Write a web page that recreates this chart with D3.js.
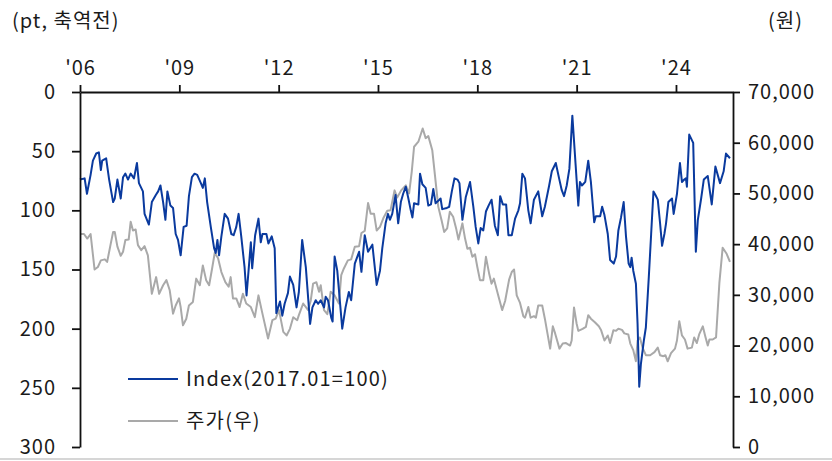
<!DOCTYPE html>
<html>
<head>
<meta charset="utf-8">
<script src="https://cdn.jsdelivr.net/npm/d3@7"></script>
<style>
    body { margin: 0; background: #fff; }
    svg text { font-family: "Noto Sans CJK KR", "Noto Sans", sans-serif; fill: #1a1a1a; }
</style>
</head>
<body>
<svg id="chart"></svg>
<script>
// Index (left axis, inverted) and share price (right axis), monthly
const indexSeries = [
    [2006.00, 74], [2006.14, 73], [2006.21, 86], [2006.32, 70], [2006.39, 58], [2006.49, 52], [2006.57, 51],
    [2006.63, 66], [2006.67, 58], [2006.79, 56], [2006.88, 74], [2007.00, 93], [2007.05, 90], [2007.13, 74],
    [2007.23, 90], [2007.30, 72], [2007.37, 69], [2007.45, 74], [2007.53, 69], [2007.63, 73], [2007.72, 60],
    [2007.78, 77], [2007.90, 84], [2007.95, 103], [2008.08, 112], [2008.17, 93], [2008.29, 87], [2008.36, 84],
    [2008.43, 79], [2008.51, 93], [2008.58, 108], [2008.64, 84], [2008.73, 96], [2008.81, 98], [2008.89, 120],
    [2008.96, 125], [2009.04, 138], [2009.13, 114], [2009.22, 113], [2009.29, 88], [2009.38, 72], [2009.46, 69],
    [2009.54, 70], [2009.65, 77], [2009.71, 81], [2009.77, 73], [2009.84, 93], [2009.95, 114], [2010.05, 132],
    [2010.10, 136], [2010.15, 125], [2010.20, 138], [2010.27, 122], [2010.37, 103], [2010.47, 107], [2010.57, 120],
    [2010.64, 121], [2010.72, 114], [2010.79, 103], [2010.87, 122], [2010.97, 148], [2011.03, 172], [2011.16, 127],
    [2011.20, 149], [2011.29, 121], [2011.39, 107], [2011.46, 127], [2011.51, 120], [2011.63, 120], [2011.69, 128],
    [2011.79, 122], [2011.88, 132], [2011.93, 187], [2012.04, 177], [2012.11, 189], [2012.18, 179], [2012.28, 170],
    [2012.34, 156], [2012.44, 163], [2012.54, 182], [2012.61, 169], [2012.71, 125], [2012.82, 148], [2012.95, 196],
    [2013.02, 182], [2013.12, 176], [2013.19, 179], [2013.27, 176], [2013.37, 182], [2013.42, 173], [2013.49, 176],
    [2013.59, 191], [2013.63, 194], [2013.69, 139], [2013.77, 151], [2013.92, 200], [2014.02, 182], [2014.12, 169],
    [2014.19, 176], [2014.30, 145], [2014.43, 135], [2014.50, 152], [2014.60, 121], [2014.70, 135], [2014.83, 129],
    [2014.96, 163], [2015.06, 151], [2015.13, 132], [2015.23, 111], [2015.30, 103], [2015.36, 108], [2015.43, 103],
    [2015.53, 87], [2015.61, 111], [2015.69, 93], [2015.76, 86], [2015.84, 80], [2015.91, 89], [2015.99, 100],
    [2016.04, 106], [2016.09, 94], [2016.22, 95], [2016.27, 69], [2016.34, 78], [2016.44, 81], [2016.52, 96],
    [2016.60, 95], [2016.67, 82], [2016.74, 94], [2016.82, 92], [2016.89, 90], [2016.94, 99], [2017.08, 98],
    [2017.15, 97], [2017.23, 84], [2017.31, 73], [2017.40, 74], [2017.46, 77], [2017.55, 108], [2017.65, 89],
    [2017.78, 76], [2017.88, 97], [2017.95, 114], [2018.03, 128], [2018.10, 115], [2018.18, 117], [2018.26, 101],
    [2018.34, 96], [2018.43, 91], [2018.53, 113], [2018.62, 121], [2018.69, 88], [2018.77, 95], [2018.87, 95],
    [2018.94, 121], [2019.04, 121], [2019.14, 107], [2019.24, 100], [2019.29, 94], [2019.36, 69], [2019.44, 73],
    [2019.54, 100], [2019.61, 111], [2019.71, 91], [2019.84, 84], [2019.96, 105], [2020.04, 97], [2020.17, 79],
    [2020.25, 67], [2020.37, 60], [2020.47, 73], [2020.55, 83], [2020.62, 88], [2020.70, 79], [2020.78, 65],
    [2020.87, 20], [2020.97, 62], [2021.05, 96], [2021.10, 76], [2021.16, 79], [2021.26, 76], [2021.35, 58],
    [2021.43, 76], [2021.53, 110], [2021.58, 105], [2021.71, 105], [2021.77, 97], [2021.84, 104], [2021.94, 120],
    [2022.01, 142], [2022.12, 145], [2022.19, 139], [2022.26, 117], [2022.34, 106], [2022.42, 93], [2022.49, 122],
    [2022.57, 145], [2022.62, 148], [2022.66, 140], [2022.71, 151], [2022.79, 162], [2022.84, 196], [2022.89, 249],
    [2022.94, 230], [2023.03, 210], [2023.09, 199], [2023.18, 156], [2023.25, 120], [2023.32, 84], [2023.38, 87],
    [2023.45, 91], [2023.52, 111], [2023.58, 130], [2023.65, 120], [2023.70, 111], [2023.77, 93], [2023.88, 90],
    [2023.93, 103], [2024.03, 86], [2024.12, 60], [2024.18, 76], [2024.25, 74], [2024.30, 73], [2024.33, 80],
    [2024.40, 36], [2024.52, 43], [2024.60, 135], [2024.66, 108], [2024.76, 90], [2024.84, 74], [2024.96, 71],
    [2025.08, 95], [2025.19, 63], [2025.33, 77], [2025.44, 67], [2025.51, 52], [2025.63, 56]
];

const priceSeries = [
    [2006.00, 42000], [2006.12, 42000], [2006.22, 41100], [2006.32, 42000], [2006.44, 35000], [2006.54, 35500],
    [2006.63, 36800], [2006.75, 37000], [2006.82, 36500], [2006.92, 39800], [2007.00, 42400], [2007.05, 42400],
    [2007.13, 39500], [2007.23, 37700], [2007.30, 38500], [2007.37, 40800], [2007.47, 40900], [2007.53, 44400],
    [2007.60, 42700], [2007.68, 42900], [2007.75, 39800], [2007.85, 38800], [2007.95, 39600], [2008.05, 37800],
    [2008.17, 30200], [2008.30, 33500], [2008.39, 30200], [2008.51, 31900], [2008.61, 32900], [2008.71, 30900],
    [2008.81, 26300], [2008.89, 27900], [2008.99, 29300], [2009.04, 27600], [2009.11, 24000], [2009.21, 25300],
    [2009.29, 27900], [2009.41, 28600], [2009.51, 33200], [2009.62, 31900], [2009.71, 35800], [2009.81, 32900],
    [2009.90, 31900], [2009.99, 35200], [2010.07, 38300], [2010.17, 37200], [2010.27, 34500], [2010.39, 32500],
    [2010.49, 31600], [2010.55, 33500], [2010.62, 29300], [2010.72, 29300], [2010.82, 27600], [2010.92, 30200],
    [2011.02, 28300], [2011.16, 27600], [2011.28, 25600], [2011.39, 29900], [2011.51, 26300], [2011.68, 21400],
    [2011.81, 25000], [2011.91, 25300], [2012.01, 27000], [2012.14, 22700], [2012.24, 22000], [2012.34, 23300],
    [2012.44, 25600], [2012.56, 25000], [2012.61, 26000], [2012.74, 28300], [2012.89, 27000], [2012.97, 28900],
    [2013.04, 32200], [2013.14, 32500], [2013.22, 30600], [2013.27, 31900], [2013.37, 27000], [2013.47, 26200],
    [2013.57, 30600], [2013.69, 29900], [2013.82, 28300], [2013.89, 33900], [2013.97, 35200], [2014.09, 36800],
    [2014.19, 37000], [2014.30, 39500], [2014.43, 39600], [2014.50, 42200], [2014.60, 42600], [2014.70, 48100],
    [2014.78, 46000], [2014.88, 46000], [2014.96, 42700], [2015.06, 43400], [2015.16, 45100], [2015.28, 46600],
    [2015.38, 46700], [2015.50, 50600], [2015.58, 49200], [2015.70, 50600], [2015.84, 51600], [2015.94, 50000],
    [2016.02, 54300], [2016.09, 59200], [2016.22, 60200], [2016.35, 62800], [2016.44, 60900], [2016.52, 61300],
    [2016.64, 58500], [2016.72, 53600], [2016.82, 47400], [2016.92, 44700], [2017.00, 42400], [2017.09, 43100],
    [2017.17, 46400], [2017.27, 45400], [2017.36, 43100], [2017.43, 40900], [2017.55, 44100], [2017.63, 41100],
    [2017.70, 39100], [2017.78, 39300], [2017.85, 37500], [2017.93, 38000], [2018.00, 35500], [2018.08, 32900],
    [2018.18, 32900], [2018.26, 37500], [2018.36, 34100], [2018.43, 32200], [2018.50, 33200], [2018.63, 29900],
    [2018.75, 27000], [2018.84, 28800], [2018.96, 33000], [2019.04, 34500], [2019.11, 35000], [2019.19, 29900],
    [2019.29, 28400], [2019.39, 25800], [2019.44, 25500], [2019.54, 27600], [2019.61, 25500], [2019.71, 25800],
    [2019.77, 25500], [2019.84, 27900], [2019.96, 27900], [2020.04, 25300], [2020.11, 22700], [2020.20, 19400],
    [2020.28, 23800], [2020.35, 22400], [2020.48, 19400], [2020.58, 20400], [2020.68, 20500], [2020.80, 20000],
    [2020.85, 21000], [2020.92, 27500], [2021.00, 24300], [2021.05, 22900], [2021.18, 23300], [2021.28, 23700],
    [2021.35, 26000], [2021.43, 25300], [2021.55, 24600], [2021.67, 23800], [2021.74, 23000], [2021.84, 21000],
    [2021.94, 22000], [2022.01, 20500], [2022.11, 23000], [2022.19, 22900], [2022.26, 23300], [2022.37, 23100],
    [2022.44, 22400], [2022.56, 22200], [2022.62, 20400], [2022.71, 19100], [2022.79, 16900], [2022.84, 21000],
    [2022.91, 21600], [2022.99, 19600], [2023.09, 18100], [2023.22, 18100], [2023.35, 18700], [2023.45, 19600],
    [2023.52, 18100], [2023.62, 17900], [2023.68, 18100], [2023.75, 16900], [2023.85, 18500], [2023.97, 19400],
    [2024.03, 21000], [2024.10, 24800], [2024.18, 22000], [2024.27, 21200], [2024.35, 19400], [2024.48, 19600],
    [2024.55, 21600], [2024.63, 20500], [2024.70, 22200], [2024.81, 23800], [2024.89, 21700], [2024.96, 20000],
    [2025.01, 21200], [2025.11, 21200], [2025.21, 21600], [2025.31, 32300], [2025.41, 39300], [2025.53, 38100],
    [2025.63, 36500]
];

const xTickYears = [2006, 2009, 2012, 2015, 2018, 2021, 2024];
const leftTicks = [0, 50, 100, 150, 200, 250, 300];
const rightTicks = [0, 10000, 20000, 30000, 40000, 50000, 60000, 70000];
const legendLabels = ["Index(2017.01=100)", "주가(우)"];
const leftUnit = "(pt, 축역전)";
const rightUnit = "(원)";

const WIDTH = 832, HEIGHT = 461;
const PLOT = {left: 80, right: 733, top: 92, bottom: 447};
const BLUE = "#0a3a9e", GREY = "#a9a9a9";

const svg = d3.select("#chart")
    .attr("width", WIDTH)
    .attr("height", HEIGHT);

const xScale = d3.scaleLinear()
    .domain([2006, 2006 + (PLOT.right - PLOT.left) / 33.11])
    .range([PLOT.left, PLOT.right]);

// left axis is inverted: 0 at the top
const yLeft = d3.scaleLinear().domain([0, 300]).range([PLOT.top, PLOT.bottom]);
const yRight = d3.scaleLinear().domain([0, 70000]).range([PLOT.bottom, PLOT.top]);

function styleAxis(g) {
    g.select(".domain").attr("stroke", "#111").attr("stroke-width", 1.8);
    g.selectAll(".tick line").attr("stroke", "#111").attr("stroke-width", 1.8);
    g.selectAll(".tick text")
        .attr("fill", "#1a1a1a")
        .style("font-size", "20px")
        .style("letter-spacing", "1px")
        .style("font-family", "\"Noto Sans CJK KR\", \"Noto Sans\", sans-serif");
}

// grey lines first, blue on top
const priceLine = d3.line()
    .x(d => xScale(d[0]))
    .y(d => yRight(d[1]));

const indexLine = d3.line()
    .x(d => xScale(d[0]))
    .y(d => yLeft(d[1]));

svg.append("path")
    .datum(priceSeries)
    .attr("fill", "none")
    .attr("stroke", GREY)
    .attr("stroke-width", 2)
    .attr("stroke-linejoin", "round")
    .attr("d", priceLine);

svg.append("path")
    .datum(indexSeries)
    .attr("fill", "none")
    .attr("stroke", BLUE)
    .attr("stroke-width", 2)
    .attr("stroke-linejoin", "round")
    .attr("d", indexLine);

// axes
svg.append("g")
    .attr("transform", "translate(0," + PLOT.top + ")")
    .call(d3.axisTop(xScale)
        .tickValues(xTickYears)
        .tickFormat(d => "'" + String(d).slice(2))
        .tickSize(7)
        .tickPadding(10)
        .tickSizeOuter(0))
    .call(styleAxis);

svg.append("g")
    .attr("transform", "translate(" + PLOT.left + ",0)")
    .call(d3.axisLeft(yLeft)
        .tickValues(leftTicks)
        .tickSize(8)
        .tickPadding(16)
        .tickSizeOuter(0))
    .call(styleAxis);

svg.append("g")
    .attr("transform", "translate(" + PLOT.right + ",0)")
    .call(d3.axisRight(yRight)
        .tickValues(rightTicks)
        .tickFormat(d3.format(","))
        .tickSize(7)
        .tickPadding(8)
        .tickSizeOuter(0))
    .call(styleAxis);

// units
svg.append("text")
    .attr("x", 12)
    .attr("y", 28)
    .style("font-size", "20px")
    .style("letter-spacing", "1px")
    .text(leftUnit);

svg.append("text")
    .attr("x", 803)
    .attr("y", 28)
    .attr("text-anchor", "end")
    .style("font-size", "20px")
    .style("letter-spacing", "1px")
    .text(rightUnit);

// legend
const legend = svg.append("g").attr("transform", "translate(128,379)");
[BLUE, GREY].forEach((color, i) => {
    const row = legend.append("g").attr("transform", "translate(0," + (i * 42) + ")");
    row.append("line")
        .attr("x1", 0).attr("x2", 50)
        .attr("stroke", color)
        .attr("stroke-width", 2);
    row.append("text")
        .attr("x", 58)
        .attr("dy", "0.35em")
        .style("font-size", "20px")
        .style("letter-spacing", "1.2px")
        .text(legendLabels[i]);
});

// bottom frame line
svg.append("line")
    .attr("x1", 0).attr("x2", WIDTH)
    .attr("y1", 459).attr("y2", 459)
    .attr("stroke", "#c8c8c8")
    .attr("stroke-width", 1.5);
</script>
</body>
</html>
